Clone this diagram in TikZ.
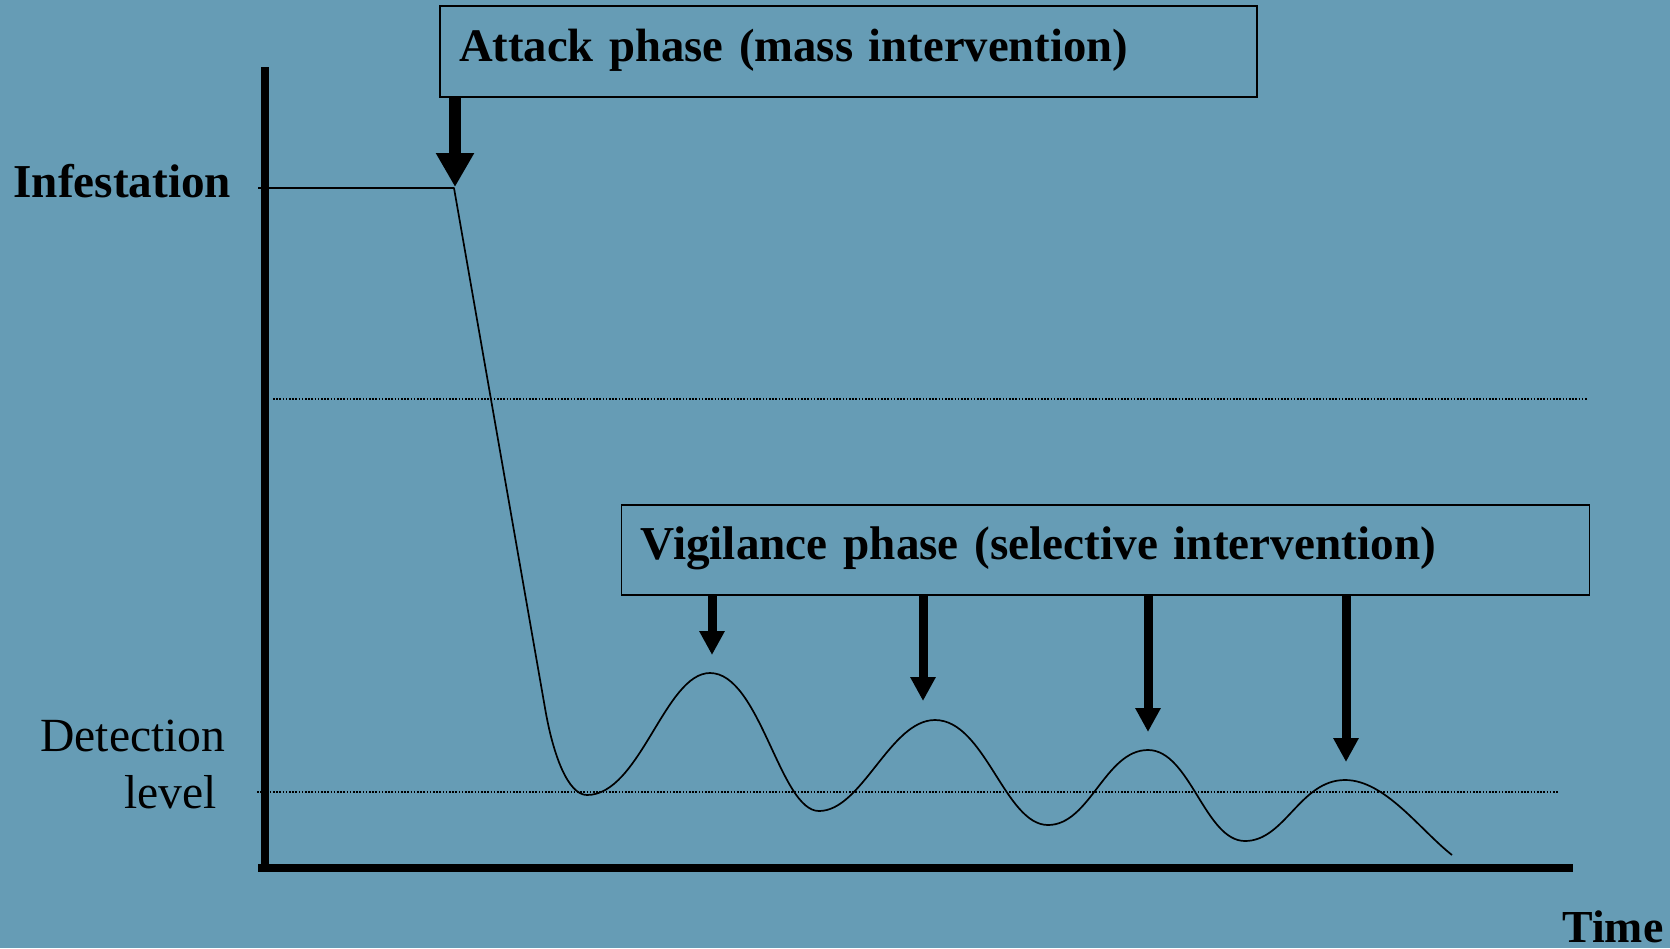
\documentclass[tikz,border=0pt]{standalone}
\usepackage{fontspec}
\setmainfont{Liberation Serif}
\usetikzlibrary{arrows.meta}
\definecolor{bg}{RGB}{102,156,181}
\begin{document}
\begin{tikzpicture}[x=0.5pt,y=-0.5pt,
  phasebox/.style={draw=black, anchor=base west, inner ysep=0pt, align=left},
  boldlbl/.style={inner sep=0pt, anchor=base west, font=\fontsize{23.6pt}{28pt}\selectfont\bfseries},
  plainlbl/.style={inner sep=0pt, anchor=base west, font=\fontsize{23.8pt}{28pt}\selectfont},
  axisline/.style={line width=4.4pt},
  guide/.style={line width=0.75pt, dash pattern=on 0.8pt off 0.8pt},
  curveline/.style={line width=0.85pt, line join=round},
  bigarrow/.style={line width=6pt, -{Triangle[width=18pt,length=17pt]}},
  smallarrow/.style={line width=4.5pt, -{Triangle[width=12pt,length=12pt]}}
]
\fill[bg] (0,0) rectangle (1670,948);
\useasboundingbox (0,0) rectangle (1670,948);

% guide lines
\draw[guide] (273,399) -- (1588,399);
\draw[guide] (257,792) -- (1558,792);

% axes
\draw[axisline] (265,67) -- (265,872);
\draw[axisline] (258,868) -- (1573,868);

% boxes
\node[phasebox, line width=1pt, text height=27.65pt, text depth=18pt,
      inner xsep=9.5pt, text width=389.5pt,
      font=\fontsize{23.35pt}{28pt}\selectfont\bfseries] (attack) at (439,61)
      {Attack phase (mass intervention)};
\node[phasebox, line width=0.75pt, text height=27pt, text depth=18pt,
      inner xsep=9.65pt, text width=464.8pt,
      font=\fontsize{23.6pt}{28pt}\selectfont\bfseries] (vigil) at (620.7,559)
      {Vigilance phase (selective intervention)};

% labels
\node[boldlbl] (inf) at (13,197) {Infestation};
\node[plainlbl] (det1) at (40,751) {Detection};
\node[plainlbl] (det2) at (124,808) {level};
\node[boldlbl, font=\fontsize{22.9pt}{28pt}\selectfont\bfseries] (time) at (1562,942) {Time};

% curve
\coordinate (infl) at (258,188);
\coordinate (a0) at (455,187);
\draw[curveline] (infl) -- (454,188) -- (545,708)
  .. controls (553,755) and (568,795) .. (587,795)
  .. controls (640,795) and (665,673) .. (710,673)
  .. controls (760,673) and (780,811) .. (819,811)
  .. controls (862,811) and (890,720) .. (935,720)
  .. controls (985,720) and (1005,825) .. (1048,825)
  .. controls (1090,825) and (1105,750) .. (1148,750)
  .. controls (1190,750) and (1205,841) .. (1245,841)
  .. controls (1285,841) and (1300,780) .. (1345,780)
  .. controls (1385,780) and (1420,830) .. (1452,855);

% arrows
\draw[bigarrow] (attack.south -| a0) -- (a0);
\coordinate (v1) at (712,655);
\coordinate (v2) at (923,701);
\coordinate (v3) at (1148,732);
\coordinate (v4) at (1346,762);
\foreach \v in {v1,v2,v3,v4}
  \draw[smallarrow] (vigil.south -| \v) -- (\v);
\end{tikzpicture}
\end{document}
